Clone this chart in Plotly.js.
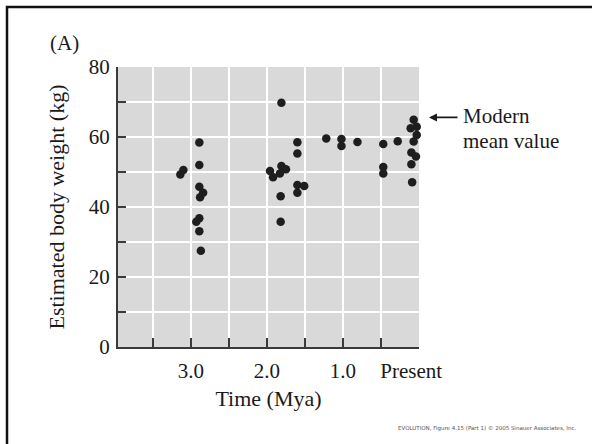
<!DOCTYPE html>
<html>
<head>
<meta charset="utf-8">
<script src="https://cdn.plot.ly/plotly-3.0.1.min.js"></script>
<style>html,body{margin:0;padding:0;background:#fff;}#chart{width:592px;height:444px;}</style>
</head>
<body>
<div id="chart"></div>
<script>
// Time before present (Mya) and estimated body weight (kg)
const timeMya = [
  2.89, 2.89, 2.89, 2.84, 2.88, 2.89, 2.93, 2.89, 2.87, 3.14, 3.10,
  1.81, 1.60, 1.60, 1.81, 1.75, 1.96, 1.83, 1.92, 1.60, 1.51, 1.60, 1.82, 1.82,
  1.22, 1.02, 1.02, 0.81, 0.47, 0.28, 0.47, 0.47,
  0.07, 0.11, 0.03, 0.03, 0.07, 0.10, 0.04, 0.10, 0.09
];
const weightKg = [
  58.4, 52.0, 45.8, 44.1, 42.8, 36.8, 35.8, 33.1, 27.5, 49.3, 50.6,
  69.8, 58.5, 55.3, 51.7, 50.8, 50.3, 49.6, 48.5, 46.3, 46.0, 44.1, 43.1, 35.8,
  59.6, 59.4, 57.4, 58.6, 58.0, 58.8, 51.4, 49.6,
  64.9, 62.5, 62.9, 60.6, 58.7, 55.6, 54.4, 52.2, 47.1
];
const xTickVals = [0, 0.5, 1.0, 1.5, 2.0, 2.5, 3.0, 3.5];
const xTickText = ['Present\u00a0\u00a0\u00a0', '', '1.0', '', '2.0', '', '3.0', ''];
const yTickVals = [0, 10, 20, 30, 40, 50, 60, 70, 80];
const yTickText = ['0', '', '20', '', '40', '', '60', '', '80'];
const modernMean = 65.6;
const panelLabel = '(A)';
const xTitle = 'Time (Mya)';
const yTitle = 'Estimated body weight (kg)';
const noteLines = ['Modern', 'mean value'];
const credit = 'EVOLUTION, Figure 4.15 (Part 1) \u00a9 2005 Sinauer Associates, Inc.';

const serif = 'Liberation Serif, Times New Roman, serif';
const ink = '#1a1a1a';
const axisCol = '#3a3a3a';

const trace = {
  type: 'scatter', mode: 'markers',
  x: timeMya, y: weightKg,
  marker: {color: '#1e1e1e', size: 8.5},
  cliponaxis: false, hoverinfo: 'skip'
};

// pixel helpers for paper coordinates of annotations (plot area 118..419 x 67..347)
const L = 118, R = 419, T = 67, B = 347;
const px = v => (v - L) / (R - L);
const py = v => (B - v) / (B - T);
const yFrac = modernMean / 80;

const layout = {
  width: 592, height: 444,
  margin: {l: L, r: 592 - R, t: T, b: 444 - B},
  paper_bgcolor: '#ffffff', plot_bgcolor: '#d9d9d9',
  showlegend: false,
  font: {family: serif, color: ink, size: 21},
  xaxis: {
    range: [3.96, 0], tickmode: 'array', tickvals: xTickVals, ticktext: xTickText,
    ticks: 'inside', ticklen: 9, tickwidth: 2, tickcolor: axisCol,
    showline: true, linecolor: axisCol, linewidth: 2, mirror: false,
    showgrid: true, gridcolor: '#ffffff', gridwidth: 2, zeroline: false,
    tickfont: {family: serif, size: 21, color: ink},
    ticklabelstandoff: 4,
    title: {text: xTitle, font: {family: serif, size: 22, color: ink}, standoff: 8},
    fixedrange: true
  },
  yaxis: {
    range: [0, 80], tickmode: 'array', tickvals: yTickVals, ticktext: yTickText,
    ticks: 'inside', ticklen: 8, tickwidth: 2, tickcolor: axisCol,
    showline: true, linecolor: axisCol, linewidth: 2, mirror: false,
    showgrid: true, gridcolor: '#ffffff', gridwidth: 2, zeroline: false,
    tickfont: {family: serif, size: 21, color: ink},
    ticklabelstandoff: 2,
    title: {text: yTitle, font: {family: serif, size: 22, color: ink}, standoff: 18},
    fixedrange: true
  },
  shapes: [{
    type: 'rect', xref: 'paper', yref: 'paper',
    x0: px(7), x1: px(640), y0: py(480), y1: py(7),
    line: {color: '#111111', width: 2.5}, fillcolor: 'rgba(0,0,0,0)', layer: 'below'
  }],
  annotations: [
    {xref: 'paper', yref: 'paper', x: px(48), y: py(43), xanchor: 'left', yanchor: 'middle',
     text: panelLabel, showarrow: false, font: {family: serif, size: 21, color: ink}},
    {xref: 'paper', yref: 'paper', x: px(429), y: yFrac, ax: 30, ay: 0,
     text: '', showarrow: true, arrowhead: 2, arrowsize: 1, arrowwidth: 1.6, arrowcolor: ink},
    {xref: 'paper', yref: 'paper', x: px(461), y: py(116), xanchor: 'left', yanchor: 'middle',
     text: noteLines[0], showarrow: false, font: {family: serif, size: 21, color: ink}},
    {xref: 'paper', yref: 'paper', x: px(461), y: py(141), xanchor: 'left', yanchor: 'middle',
     text: noteLines[1], showarrow: false, font: {family: serif, size: 21, color: ink}},
    {xref: 'paper', yref: 'paper', x: px(487), y: py(428), xanchor: 'center', yanchor: 'middle',
     text: credit, showarrow: false, font: {family: 'DejaVu Sans, sans-serif', size: 5.5, color: '#555555'}}
  ]
};

Plotly.newPlot('chart', [trace], layout, {displayModeBar: false, staticPlot: true});
</script>
</body>
</html>
